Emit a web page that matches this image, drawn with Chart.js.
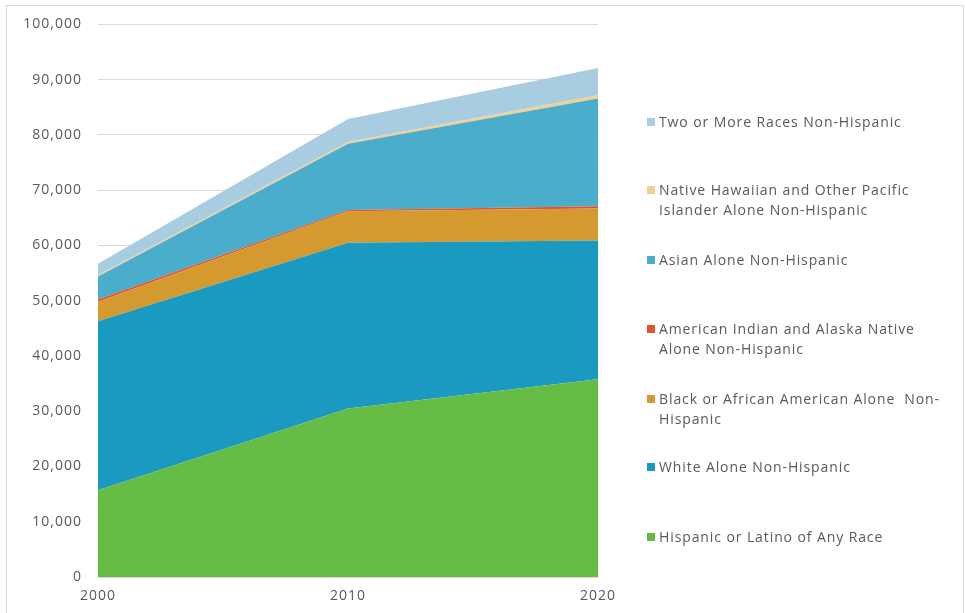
<!DOCTYPE html>
<html>
<head>
<meta charset="utf-8">
<script src="https://cdn.jsdelivr.net/npm/chart.js@4/dist/chart.umd.min.js"></script>
<style>
  body { margin: 0; background: #fff; font-family: "Open Sans", sans-serif; }
  #frame { position: absolute; left: 6px; top: 5px; width: 956px; height: 640px; border: 1px solid #d9d9d9; }
  #grafico { position: absolute; left: 0; top: 0; }
  .leg { position: absolute; left: 647px; font-size: 14px; color: #595959; line-height: 20px; white-space: pre; letter-spacing: 0.9px; }
  .leg i { position: absolute; left: 0; top: 6px; width: 8px; height: 8px; }
  .leg span { display: block; margin-left: 12px; }
</style>
</head>
<body>
<div id="frame"></div>
<canvas id="grafico" width="965" height="613"></canvas>
<div id="legenda"></div>
<script>
// Dados do gráfico
const anos = ['2000', '2010', '2020'];
const hispanico = [15700, 30500, 35800];
const branco = [30600, 30000, 25100];
const negro = [3500, 5700, 5800];
const indigena = [400, 200, 400];
const asiatico = [4200, 12000, 19500];
const havaiano = [200, 300, 600];
const duasRacas = [2100, 4200, 4900];
const ticksY = [0, 10000, 20000, 30000, 40000, 50000, 60000, 70000, 80000, 90000, 100000];

const series = [
    { nome: ['Hispanic or Latino of Any Race'], dados: hispanico, cor: '#66bc45', legY: 527 },
    { nome: ['White Alone Non-Hispanic'], dados: branco, cor: '#1a9ac1', legY: 457 },
    { nome: ['Black or African American Alone  Non-', 'Hispanic'], dados: negro, cor: '#d59a2f', legY: 389 },
    { nome: ['American Indian and Alaska Native', 'Alone Non-Hispanic'], dados: indigena, cor: '#e4532e', legY: 319 },
    { nome: ['Asian Alone Non-Hispanic'], dados: asiatico, cor: '#4aadcb', legY: 250 },
    { nome: ['Native Hawaiian and Other Pacific', 'Islander Alone Non-Hispanic'], dados: havaiano, cor: '#f2cf92', legY: 180 },
    { nome: ['Two or More Races Non-Hispanic'], dados: duasRacas, cor: '#a8cde1', legY: 112 }
];

// Legenda em HTML
const legenda = document.getElementById('legenda');
series.forEach(s => {
    const div = document.createElement('div');
    div.className = 'leg';
    div.style.top = s.legY + 'px';
    const quadrado = document.createElement('i');
    quadrado.style.background = s.cor;
    const texto = document.createElement('span');
    texto.textContent = s.nome.join('\n');
    div.appendChild(quadrado);
    div.appendChild(texto);
    legenda.appendChild(div);
});

// espaçamento das letras nos eixos
const espacamento = {
    id: 'espacamento',
    beforeDraw: chart => { chart.ctx.letterSpacing = '1px'; }
};

const ctx = document.getElementById('grafico').getContext('2d');
new Chart(ctx, {
    type: 'line',
    data: {
        labels: anos,
        datasets: series.map((s, i) => ({
            label: s.nome.join(' '),
            data: s.dados,
            backgroundColor: s.cor,
            borderWidth: 0,
            pointRadius: 0,
            tension: 0,
            fill: i === 0 ? 'origin' : '-1'
        }))
    },
    plugins: [espacamento],
    options: {
        responsive: false,
        animation: false,
        layout: { padding: { left: 0, right: 367, top: 24, bottom: 0 } },
        plugins: { legend: { display: false }, tooltip: { enabled: false } },
        scales: {
            x: {
                offset: false,
                grid: { display: false, drawTicks: false },
                border: { color: '#d9d9d9' },
                ticks: { color: '#595959', font: { family: 'Open Sans', size: 14 }, padding: 11, maxRotation: 0 },
                afterFit: s => { s.height = 36; }
            },
            y: {
                stacked: true,
                min: 0,
                max: 100000,
                afterBuildTicks: s => { s.ticks = ticksY.map(v => ({ value: v })); },
                grid: { color: '#d9d9d9', drawTicks: false },
                border: { display: false },
                ticks: {
                    color: '#595959',
                    font: { family: 'Open Sans', size: 14 },
                    padding: 16,
                    callback: v => v.toLocaleString('en-US')
                },
                afterFit: s => { s.width = 98; }
            }
        }
    }
});
</script>
</body>
</html>
